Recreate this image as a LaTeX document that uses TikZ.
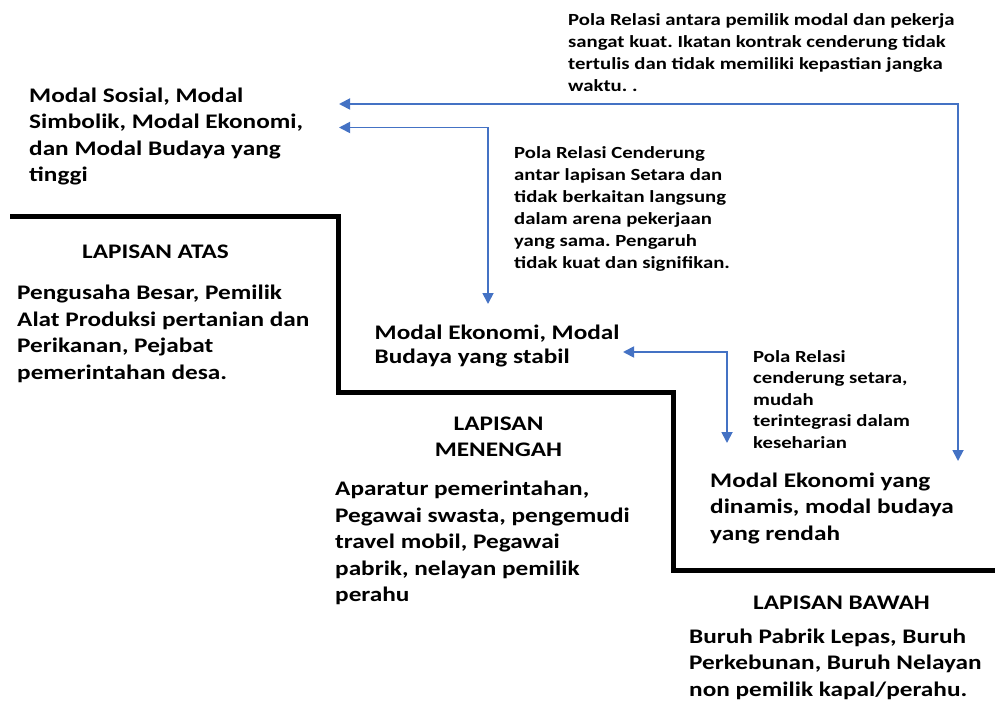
\documentclass[tikz,border=0pt]{standalone}
\usepackage{fontspec}
\setmainfont{Carlito}
\newfontfamily\wfont[FakeStretch=1.22]{Carlito}
\usetikzlibrary{arrows.meta}
\definecolor{arrowblue}{HTML}{4472C4}
\frenchspacing
\newcommand{\lines}[1]{\begin{tabular}[t]{@{}l@{}}#1\end{tabular}}
\newcommand{\clines}[1]{\begin{tabular}[t]{@{}c@{}}#1\end{tabular}}
\tikzset{
  txt/.style={anchor=base west, inner sep=0pt, font=\wfont\bfseries\fontsize{20.7}{26.5}\selectfont},
  tighttxt/.style={txt, font=\wfont\bfseries\fontsize{20.7}{24.5}\selectfont},
  notetxt/.style={txt, font=\wfont\bfseries\fontsize{17}{22}\selectfont},
  smalltxt/.style={txt, font=\wfont\bfseries\fontsize{17}{21.5}\selectfont},
  headtxt/.style={anchor=base, inner sep=0pt, font=\wfont\bfseries\fontsize{20.7}{26}\selectfont},
  stair/.style={line width=5pt, line join=miter},
  rel/.style={draw=arrowblue, line width=1.8pt, {Triangle[width=11pt,length=11pt]}-{Triangle[width=11pt,length=11pt]}},
}
\begin{document}
\begin{tikzpicture}[x=1pt,y=-1pt]
\useasboundingbox (0,0) rectangle (995,703);
% staircase
\draw[stair] (10,217) -| (338,392) -| (673,570) -- (995,570);
% texts
\node[txt] (capAtas) at (29,102.5) {\lines{Modal Sosial, Modal\\Simbolik, Modal Ekonomi,\\dan Modal Budaya yang\\tinggi}};
\node[notetxt] (relAtasBawah) at (568,25.5) {\lines{Pola Relasi antara pemilik modal dan pekerja\\sangat kuat. Ikatan kontrak cenderung tidak\\tertulis dan tidak memiliki kepastian jangka\\waktu. .}};
\node[notetxt] (relAtasMenengah) at (514,159) {\lines{Pola Relasi Cenderung\\antar lapisan Setara dan\\tidak berkaitan langsung\\dalam arena pekerjaan\\yang sama. Pengaruh\\tidak kuat dan signifikan.}};
\node[headtxt] (hAtas) at (155.5,258.3) {LAPISAN ATAS};
\node[txt] (isiAtas) at (17,299.5) {\lines{Pengusaha Besar, Pemilik\\Alat Produksi pertanian dan\\Perikanan, Pejabat\\pemerintahan desa.}};
\node[tighttxt] (capMenengah) at (374.5,339) {\lines{Modal Ekonomi, Modal\\Budaya yang stabil}};
\node[smalltxt] (relMenengahBawah) at (753,362) {\lines{Pola Relasi\\cenderung setara,\\mudah\\terintegrasi dalam\\keseharian}};
\node[headtxt] (hMenengah) at (498.5,430.7) {\clines{LAPISAN\\MENENGAH}};
\node[txt] (isiMenengah) at (335,495.5) {\lines{Aparatur pemerintahan,\\Pegawai swasta, pengemudi\\travel mobil, Pegawai\\pabrik, nelayan pemilik\\perahu}};
\node[txt] (capBawah) at (710,487) {\lines{Modal Ekonomi yang\\dinamis, modal budaya\\yang rendah}};
\node[headtxt] (hBawah) at (841.5,609) {LAPISAN BAWAH};
\node[txt] (isiBawah) at (689,643) {\lines{Buruh Pabrik Lepas, Buruh\\Perkebunan, Buruh Nelayan\\non pemilik kapal/perahu.}};
% arrow end points
\coordinate (aTop) at (339,104);
\coordinate (aTopB) at (958,461);
\coordinate (aMid) at (339,127.5);
\coordinate (aMidB) at (488,304);
\coordinate (aLow) at (623,352);
\coordinate (aLowB) at (727,443);
\draw[rel] (aTop) -| (aTopB);
\draw[rel] (aMid) -| (aMidB);
\draw[rel] (aLow) -| (aLowB);
\end{tikzpicture}
\end{document}
